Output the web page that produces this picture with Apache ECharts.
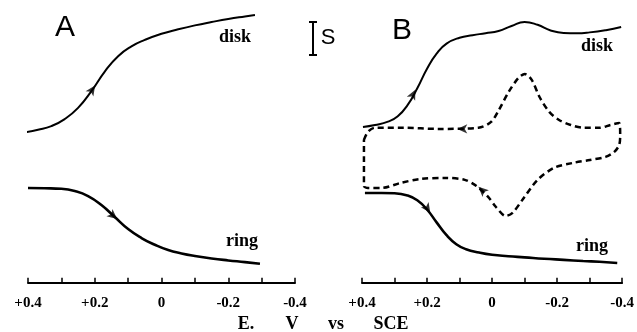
<!DOCTYPE html>
<html>
<head>
<meta charset="utf-8">
<script src="https://cdn.jsdelivr.net/npm/echarts@6/dist/echarts.min.js"></script>
<style>
  html, body { margin: 0; padding: 0; background: #fff; }
  #main { width: 637px; height: 332px; }
</style>
</head>
<body>
<div id="main"></div>
<script>
// potentials in V vs SCE, currents in arbitrary units (scale bar S)
const diskAE = [0.415, 0.37, 0.33, 0.29, 0.25, 0.21, 0.17, 0.13, 0.09, 0.05, 0.0, -0.05, -0.1, -0.15, -0.2, -0.25, -0.28]
const diskAI = [5.36, 5.47, 5.6, 5.85, 6.25, 6.85, 7.55, 8.1, 8.45, 8.68, 8.9, 9.06, 9.2, 9.32, 9.43, 9.52, 9.57]

const ringAE = [0.4, 0.35, 0.3, 0.26, 0.22, 0.18, 0.14, 0.1, 0.06, 0.02, -0.02, -0.06, -0.1, -0.15, -0.2, -0.25, -0.295]
const ringAI = [3.39, 3.38, 3.36, 3.28, 3.1, 2.78, 2.35, 1.92, 1.6, 1.36, 1.17, 1.05, 0.96, 0.87, 0.8, 0.74, 0.68]

const diskBE = [0.397, 0.36, 0.32, 0.29, 0.26, 0.23, 0.2, 0.17, 0.14, 0.1, 0.06, 0.02, -0.02, -0.06, -0.1, -0.14, -0.18, -0.22, -0.26, -0.3, -0.35, -0.397]
const diskBI = [5.57, 5.64, 5.76, 5.95, 6.35, 6.95, 7.65, 8.2, 8.55, 8.76, 8.85, 8.92, 9.0, 9.18, 9.32, 9.22, 9.02, 8.93, 8.92, 8.95, 9.03, 9.14]

// cyclic voltammogram (dashed loop)
const cvE = [0.394, 0.382, 0.361, 0.272, 0.167, 0.042, 0.003, -0.021, -0.051, -0.081, -0.101, -0.122, -0.146, -0.176, -0.206, -0.242, -0.281, -0.331, -0.364, -0.391,
  -0.394, -0.391, -0.376, -0.349, -0.301, -0.251, -0.191, -0.14, -0.093, -0.063, -0.042, -0.012, 0.012, 0.048, 0.084, 0.143, 0.221, 0.281, 0.34, 0.382, 0.394, 0.394, 0.394]
const cvI = [5.11, 5.39, 5.54, 5.54, 5.5, 5.54, 5.75, 6.18, 6.82, 7.32, 7.46, 7.25, 6.64, 6.11, 5.82, 5.64, 5.54, 5.54, 5.64, 5.71,
  5.29, 4.93, 4.68, 4.5, 4.39, 4.29, 4.11, 3.68, 2.96, 2.5, 2.39, 2.71, 3.07, 3.46, 3.68, 3.75, 3.71, 3.57, 3.39, 3.39, 3.46, 4.39, 5.11]

const ringBE = [0.391, 0.34, 0.3, 0.26, 0.23, 0.2, 0.17, 0.14, 0.11, 0.08, 0.04, 0.0, -0.05, -0.1, -0.16, -0.22, -0.28, -0.33, -0.385]
const ringBI = [3.21, 3.21, 3.2, 3.12, 2.95, 2.62, 2.15, 1.7, 1.38, 1.2, 1.08, 1.0, 0.95, 0.91, 0.86, 0.82, 0.78, 0.75, 0.71]

// scan direction arrows: potential, current, rotation
const arrowsA = [[0.199, 7.05, -34], [0.133, 2.28, -130]]
const arrowsB = [[0.236, 6.9, -26], [0.107, 5.5, 90], [0.042, 3.43, 47], [0.19, 2.5, -146]]

const zip = (e, i) => e.map((v, k) => [v, i[k]])

const chart = echarts.init(document.getElementById('main'))

const serif = 'Liberation Serif, Times New Roman, serif'

const xAxisBase = {
  type: 'value',
  inverse: true,
  min: -0.4,
  max: 0.4,
  interval: 0.1,
  splitLine: { show: false },
  axisLine: { lineStyle: { color: '#000', width: 2 } },
  axisTick: { inside: true, length: 5, lineStyle: { color: '#000', width: 1.5 } },
  axisLabel: {
    color: '#000',
    fontFamily: serif,
    fontWeight: 'bold',
    fontSize: 15,
    margin: 9,
    formatter: function (v) {
      const n = Math.round(v * 10)
      if (n % 2 !== 0) return ''
      if (n === 0) return '0'
      return (n > 0 ? '+' : '-') + '0.' + Math.abs(n)
    }
  }
}

const yAxisBase = { type: 'value', min: -0.15, max: 10, show: false }

const solid = { color: '#000', width: 2 }
const noisy = { color: '#000', width: 2.6 }

const arrowData = (list) => list.map((a) => ({ value: [a[0], a[1]], symbolRotate: a[2] }))

const label = (text, x, y, size, font, weight) => ({
  type: 'text',
  style: {
    text: text, x: x, y: y, fill: '#000',
    font: (weight || 'normal') + ' ' + size + 'px ' + font,
    textAlign: 'center', textVerticalAlign: 'middle'
  }
})

const option = {
  animation: false,
  backgroundColor: '#fff',
  grid: [
    { left: 28, width: 267, top: 3, bottom: 45 },
    { left: 362, width: 268, top: 3, bottom: 45 }
  ],
  xAxis: [
    Object.assign({ gridIndex: 0 }, xAxisBase),
    Object.assign({ gridIndex: 1 }, xAxisBase)
  ],
  yAxis: [
    Object.assign({ gridIndex: 0 }, yAxisBase),
    Object.assign({ gridIndex: 1 }, yAxisBase)
  ],
  series: [
    { name: 'disk A', type: 'line', xAxisIndex: 0, yAxisIndex: 0, data: zip(diskAE, diskAI), smooth: 0.5, showSymbol: false, lineStyle: solid },
    { name: 'ring A', type: 'line', xAxisIndex: 0, yAxisIndex: 0, data: zip(ringAE, ringAI), smooth: 0.5, showSymbol: false, lineStyle: noisy },
    { name: 'disk B', type: 'line', xAxisIndex: 1, yAxisIndex: 1, data: zip(diskBE, diskBI), smooth: 0.5, showSymbol: false, lineStyle: solid },
    { name: 'CV', type: 'line', xAxisIndex: 1, yAxisIndex: 1, data: zip(cvE, cvI), smooth: 0.3, showSymbol: false,
      lineStyle: { color: '#000', width: 2.5, type: [6, 4] } },
    { name: 'ring B', type: 'line', xAxisIndex: 1, yAxisIndex: 1, data: zip(ringBE, ringBI), smooth: 0.5, showSymbol: false, lineStyle: noisy },
    { name: 'arrows A', type: 'scatter', xAxisIndex: 0, yAxisIndex: 0, symbol: 'arrow', symbolSize: [7, 10],
      itemStyle: { color: '#000' }, data: arrowData(arrowsA) },
    { name: 'arrows B', type: 'scatter', xAxisIndex: 1, yAxisIndex: 1, symbol: 'arrow', symbolSize: [7, 10],
      itemStyle: { color: '#000' }, data: arrowData(arrowsB) }
  ],
  graphic: [
    label('A', 65, 28, 30, 'Liberation Sans, Arial, sans-serif'),
    label('B', 402, 31, 30, 'Liberation Sans, Arial, sans-serif'),
    label('disk', 235, 37, 18, serif, 'bold'),
    label('disk', 597, 46, 18, serif, 'bold'),
    label('ring', 242, 241, 18, serif, 'bold'),
    label('ring', 592, 246, 18, serif, 'bold'),
    label('S', 328, 38, 22, 'Liberation Sans, Arial, sans-serif'),
    label('E.', 246, 324, 18, serif, 'bold'),
    label('V', 292, 324, 18, serif, 'bold'),
    label('vs', 336, 324, 18, serif, 'bold'),
    label('SCE', 391, 324, 18, serif, 'bold'),
    // scale bar
    { type: 'line', shape: { x1: 313, y1: 22, x2: 313, y2: 55 }, style: { stroke: '#000', lineWidth: 2 } },
    { type: 'line', shape: { x1: 309, y1: 22, x2: 317, y2: 22 }, style: { stroke: '#000', lineWidth: 2 } },
    { type: 'line', shape: { x1: 309, y1: 55, x2: 317, y2: 55 }, style: { stroke: '#000', lineWidth: 2 } }
  ]
}

option && chart.setOption(option)
</script>
</body>
</html>
